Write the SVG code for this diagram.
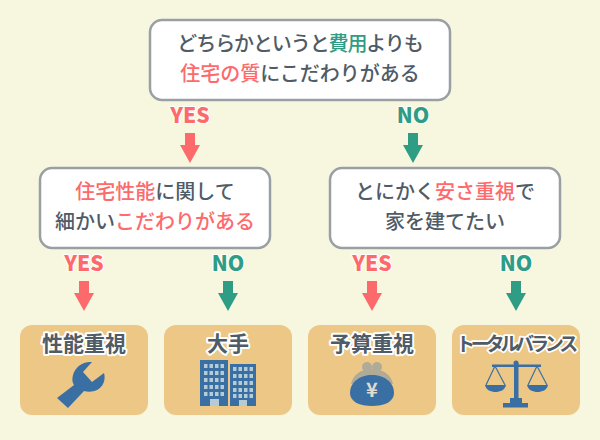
<svg xmlns="http://www.w3.org/2000/svg" width="600" height="440" viewBox="0 0 600 440">
<defs>
<style>
text{font-family:"Noto Sans CJK JP","Noto Sans",sans-serif;}
.q{font-size:20px;font-weight:500;fill:#4f5b66;text-anchor:middle;}
.r{fill:#fd6a6c;}
.g{fill:#2f9c84;}
.box{fill:#fff;stroke:#9a9fa3;stroke-width:2.5;}
.res{fill:#ecc785;}
.yn{font-size:21px;font-weight:800;text-anchor:middle;stroke:#fff;stroke-width:2;paint-order:stroke;stroke-linejoin:round;}
.t{font-size:21px;font-weight:700;fill:#4f5b66;text-anchor:middle;stroke:#fff;stroke-width:4;paint-order:stroke;stroke-linejoin:round;}
.ic{fill:#3a6fa3;}
.win{fill:#b5cbd6;}
</style>
<path id="ad" d="M-5 -16H5V-4H10L0 14L-10 -4H-5Z"/>
<g id="bw"><rect x="0" y="0" width="3.500" height="4"/><rect x="5.500" y="0" width="3.500" height="4"/><rect x="11" y="0" width="3.500" height="4"/><rect x="16.500" y="0" width="3.500" height="4"/></g>
</defs>
<rect width="600" height="440" fill="#f7f7e0"/>
<g id="connectors">
<use href="#ad" x="190" y="149" class="r"/>
<use href="#ad" x="413" y="149" class="g"/>
<use href="#ad" x="84" y="297" class="r"/>
<use href="#ad" x="228" y="297" class="g"/>
<use href="#ad" x="372" y="297" class="r"/>
<use href="#ad" x="516" y="297" class="g"/>
<text class="yn r" x="190" y="123">YES</text>
<text class="yn g" x="413" y="123">NO</text>
<text class="yn r" x="84" y="271">YES</text>
<text class="yn g" x="228" y="271">NO</text>
<text class="yn r" x="372" y="271">YES</text>
<text class="yn g" x="516" y="271">NO</text>
</g>
<g id="q1">
<rect class="box" x="150" y="20" width="300" height="80" rx="12"/>
<text class="q" x="300" y="51" style="letter-spacing:-1.1px">どちらかというと<tspan class="g">費用</tspan>よりも</text>
<text class="q" x="300" y="81"><tspan class="r">住宅の質</tspan>にこだわりがある</text>
</g>
<g id="q2">
<rect class="box" x="40" y="168" width="230" height="80" rx="12"/>
<text class="q" x="155" y="199"><tspan class="r">住宅性能</tspan>に関して</text>
<text class="q" x="155" y="229">細かい<tspan class="r">こだわりがある</tspan></text>
</g>
<g id="q3">
<rect class="box" x="330" y="168" width="230" height="80" rx="12"/>
<text class="q" x="445" y="199">とにかく<tspan class="r">安さ重視</tspan>で</text>
<text class="q" x="445" y="229">家を建てたい</text>
</g>
<g id="r1">
<rect class="res" x="20" y="325" width="128" height="90" rx="12"/>
<text class="t" x="84" y="351">性能重視</text>
<path class="ic" d="M92 362C83 361 75 367 73 375C72 379 72 382 74 385L57 398L68 408L84 391C88 392 93 392 97 390C103 387 106 380 104 373L92 382L83 372Z"/>
</g>
<g id="r2">
<rect class="res" x="164" y="325" width="128" height="90" rx="12"/>
<text class="t" x="228" y="351">大手</text>
<rect class="ic" x="200" y="360" width="28" height="46"/>
<rect class="ic" x="230" y="364" width="26" height="42"/>
<g class="win">
<use href="#bw" x="204" y="364"/><use href="#bw" x="204" y="371"/><use href="#bw" x="204" y="378"/><use href="#bw" x="204" y="385"/><use href="#bw" x="204" y="392"/>
<use href="#bw" x="233" y="367"/><use href="#bw" x="233" y="374"/><use href="#bw" x="233" y="381"/><use href="#bw" x="233" y="388"/><use href="#bw" x="233" y="394"/>
<rect x="210" y="399" width="9" height="7"/><rect x="239" y="400" width="8" height="6"/>
</g>
</g>
<g id="r3">
<rect class="res" x="308" y="325" width="128" height="90" rx="12"/>
<text class="t" x="372" y="351">予算重視</text>
<g fill="#b0aa99">
<circle cx="367" cy="367" r="5"/><circle cx="377" cy="367" r="5"/>
<path d="M351 384C353 374 362 369 372 369C382 369 391 374 393 384Z"/>
</g>
<path class="ic" d="M372 375C360 375 350 382 350 393C350 402 360 406 372 406C384 406 394 402 394 393C394 382 384 375 372 375Z"/>
<text x="372" y="397" font-size="20" font-weight="700" text-anchor="middle" fill="#dcdcd4">¥</text>
</g>
<g id="r4">
<rect class="res" x="452" y="325" width="128" height="90" rx="12"/>
<text class="t" x="515" y="351" style="font-size:19px;letter-spacing:-4.2px;stroke-width:3.500px">トータルバランス</text>
<g class="ic">
<circle cx="516" cy="363" r="2.500"/>
<rect x="514" y="363" width="4.500" height="40"/>
<rect x="492" y="364.500" width="49" height="2.500"/>
<rect x="503" y="403" width="25" height="4.500"/>
<rect x="510" y="398" width="12" height="5"/>
<path d="M485 385H506C505 390 500 392 495.500 392C491 392 486 390 485 385Z"/>
<path d="M527 385H548C547 390 542 392 537.500 392C533 392 528 390 527 385Z"/>
</g>
<g fill="none" stroke="#3a6fa3" stroke-width="1.200">
<path d="M486 385L495 366L505 385M528 385L537 366L547 385"/>
</g>
</g>
</svg>
